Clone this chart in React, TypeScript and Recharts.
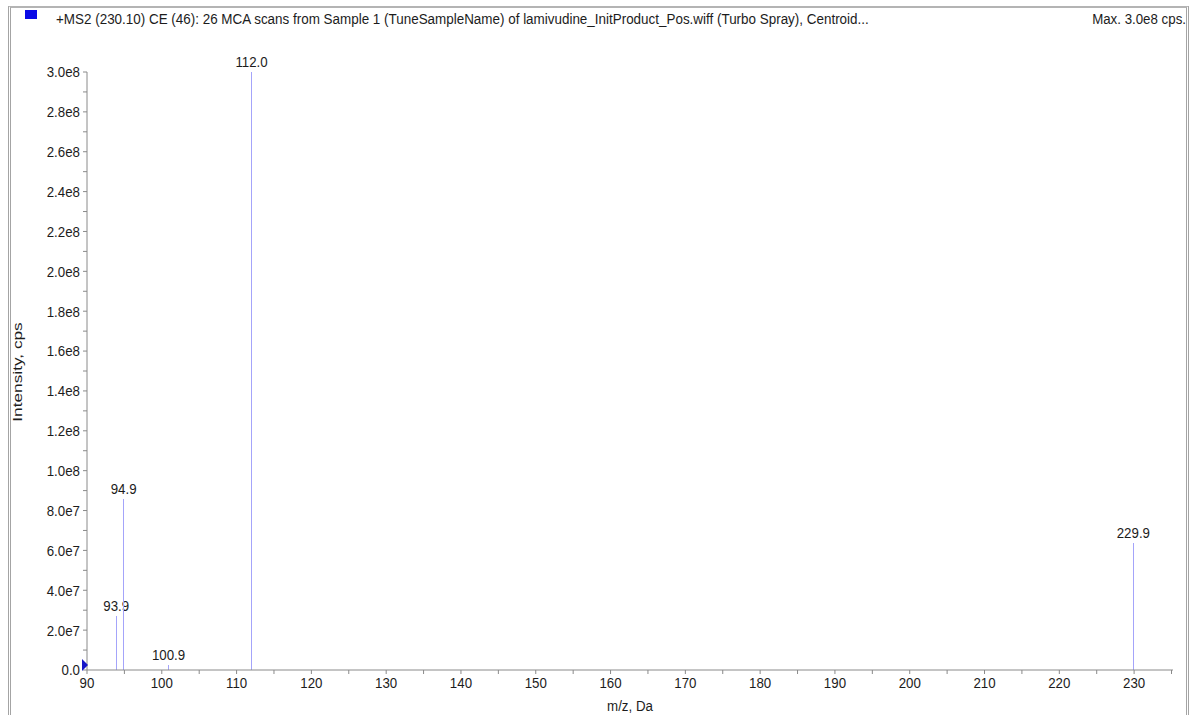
import React from "react";
import {
  ComposedChart,
  XAxis,
  YAxis,
  Scatter,
  ReferenceLine,
  ReferenceDot,
} from "recharts";

// ---- data ----
const peakMz = [93.9, 94.9, 100.9, 112.0, 229.9];
const peakIntensity = [2.7e7, 8.6e7, 2.5e6, 3.0e8, 6.35e7];
const peakLabels = ["93.9", "94.9", "100.9", "112.0", "229.9"];

const xMajorTicks = [90, 100, 110, 120, 130, 140, 150, 160, 170, 180, 190, 200, 210, 220, 230];
const yMajorTicks = [0, 2e7, 4e7, 6e7, 8e7, 1e8, 1.2e8, 1.4e8, 1.6e8, 1.8e8, 2.0e8, 2.2e8, 2.4e8, 2.6e8, 2.8e8, 3.0e8];
const yTickLabels = ["0.0", "2.0e7", "4.0e7", "6.0e7", "8.0e7", "1.0e8", "1.2e8", "1.4e8", "1.6e8", "1.8e8", "2.0e8", "2.2e8", "2.4e8", "2.6e8", "2.8e8", "3.0e8"];

const titleText =
  "+MS2 (230.10) CE (46): 26 MCA scans from Sample 1 (TuneSampleName) of lamivudine_InitProduct_Pos.wiff (Turbo Spray), Centroid...";
const maxText = "Max. 3.0e8 cps.";
const xTitle = "m/z, Da";
const yTitle = "Intensity, cps";

const peakData = peakMz.map((mz, i) => ({ mz, intensity: peakIntensity[i] }));

// minor ticks between majors
const withMinor = (major: number[]) => {
  const out: number[] = [];
  for (let i = 0; i < major.length; i++) {
    out.push(major[i]);
    if (i < major.length - 1) out.push((major[i] + major[i + 1]) / 2);
  }
  return out;
};
const xTicks = [...withMinor(xMajorTicks), 235];
const yTicks = withMinor(yMajorTicks);

const FONT = "'Liberation Sans', Arial, Helvetica, sans-serif";
const FS = 13.3;
const SY = 1.15;
const STICK = "#a4a4fa";
const AXIS = "#8a8a8a";
const TEXT = "#1c1c1c";

const SText = ({ x, y, anchor, children, dy = 0 }: any) => (
  <g transform={`translate(${x},${y}) scale(1,${SY})`}>
    <text x={0} y={dy} textAnchor={anchor} fill={TEXT} fontSize={FS} fontFamily={FONT}>
      {children}
    </text>
  </g>
);

const XTick = (props: any) => {
  const { x, y, payload } = props;
  const v = payload.value;
  if (!xMajorTicks.includes(v)) return <g />;
  return (
    <SText x={x} y={y} anchor="middle" dy={9.6}>
      {String(v)}
    </SText>
  );
};

const YTick = (props: any) => {
  const { x, y, payload } = props;
  const idx = yMajorTicks.indexOf(payload.value);
  if (idx < 0) return <g />;
  return (
    <SText x={x} y={y} anchor="end" dy={4.7}>
      {yTickLabels[idx]}
    </SText>
  );
};

const Marker = (props: any) => {
  const { cx, cy } = props;
  return (
    <polygon
      points={`${cx - 5},${cy - 11} ${cx + 1},${cy - 5} ${cx - 5},${cy + 1}`}
      fill="#1414c8"
    />
  );
};

const peakLabel = (text: string) => (props: any) => {
  const vb = props.viewBox || {};
  const cx = vb.x + (vb.width || 0) / 2;
  return (
    <SText x={cx} y={vb.y - 5} anchor="middle">
      {text}
    </SText>
  );
};

export default function App() {
  return (
    <div
      style={{
        position: "absolute",
        left: 0,
        top: 0,
        width: 1203,
        height: 715,
        background: "#fff",
        fontFamily: FONT,
        overflow: "hidden",
      }}
    >
      {/* frame */}
      <div
        style={{
          position: "absolute",
          left: 8,
          top: 6,
          width: 1175,
          height: 720,
          borderLeft: "3px double #a4a4a4",
          borderRight: "3px double #a4a4a4",
          borderTop: "2px solid #b4b4b4",
        }}
      />
      {/* legend square */}
      <div style={{ position: "absolute", left: 25, top: 10, width: 12, height: 9, background: "#0a0ae6" }} />
      <div
        style={{
          position: "absolute",
          left: 56,
          top: 13,
          fontSize: FS,
          lineHeight: 1,
          color: TEXT,
          whiteSpace: "nowrap",
          transform: `scale(1.01,${SY})`,
          transformOrigin: "left bottom",
        }}
      >
        {titleText}
      </div>
      <div
        style={{
          position: "absolute",
          right: 17,
          top: 13,
          fontSize: FS,
          lineHeight: 1,
          color: TEXT,
          whiteSpace: "nowrap",
          transform: `scale(1,${SY})`,
          transformOrigin: "right bottom",
        }}
      >
        {maxText}
      </div>
      <div style={{ position: "absolute", left: 0, top: 0 }}>
        <ComposedChart
          width={1203}
          height={715}
          data={peakData}
          margin={{ top: 72, right: 30, bottom: 0, left: 7 }}
        >
          <XAxis
            dataKey="mz"
            type="number"
            domain={[90, 235.2]}
            ticks={xTicks}
            interval={0}
            allowDataOverflow
            tick={<XTick />}
            tickSize={4}
            tickMargin={3}
            stroke={AXIS}
            height={45}
            label={{
              content: (p: any) => {
                const vb = p.viewBox || {};
                return (
                  <SText x={vb.x + vb.width / 2} y={711} anchor="middle">
                    {xTitle}
                  </SText>
                );
              },
            }}
          />
          <YAxis
            dataKey="intensity"
            type="number"
            domain={[0, 3e8]}
            ticks={yTicks}
            interval={0}
            allowDataOverflow
            tick={<YTick />}
            tickSize={4}
            tickMargin={3}
            stroke={AXIS}
            width={80}
            label={{
              content: () => (
                <text
                  transform="translate(22,372) rotate(-90) scale(1.3,1)"
                  textAnchor="middle"
                  fill={TEXT}
                  fontSize={FS}
                  fontFamily={FONT}
                >
                  {yTitle}
                </text>
              ),
            }}
          />
          <Scatter dataKey="intensity" isAnimationActive={false} shape={() => <g />} />
          {peakData.map((p, i) => (
            <ReferenceLine
              key={i}
              segment={[
                { x: p.mz, y: 0 },
                { x: p.mz, y: p.intensity },
              ]}
              stroke={STICK}
              strokeWidth={1}
              shapeRendering="crispEdges"
              ifOverflow="visible"
              label={{ content: peakLabel(peakLabels[i]) }}
            />
          ))}
          <ReferenceDot x={90} y={0} ifOverflow="visible" shape={<Marker />} />
        </ComposedChart>
      </div>
    </div>
  );
}
